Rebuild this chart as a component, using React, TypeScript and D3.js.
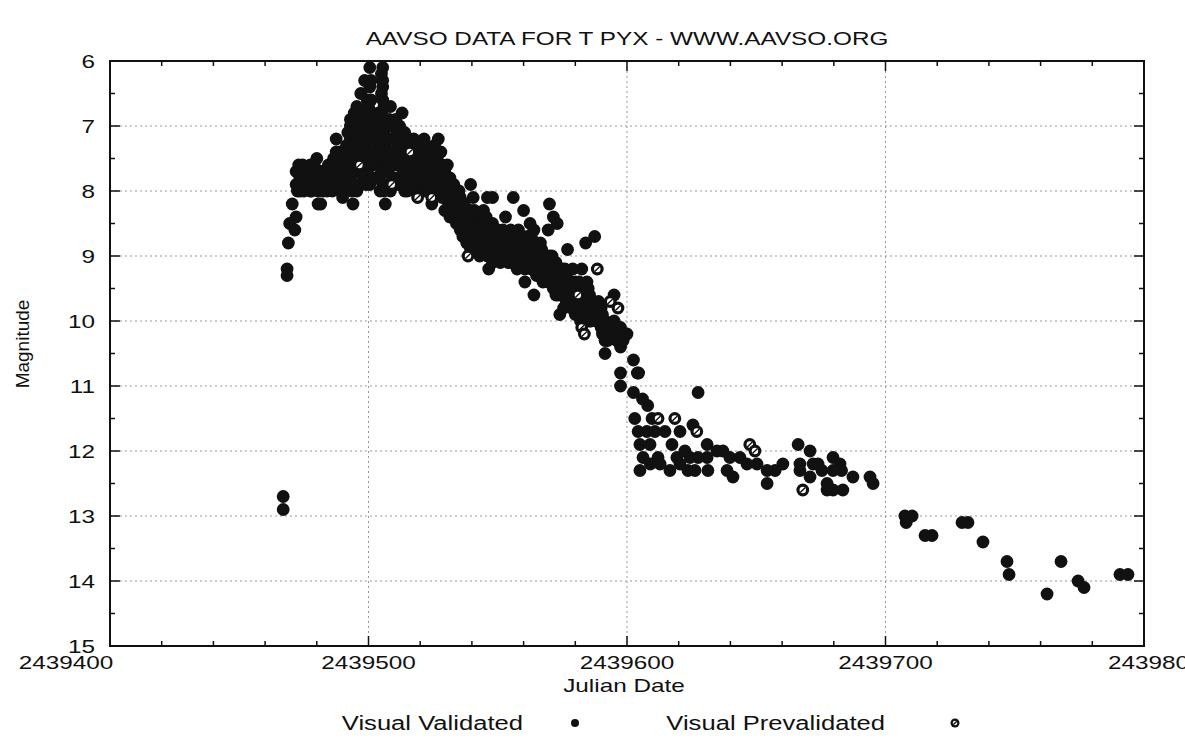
import React from 'react';
import * as d3 from 'd3';

// Julian Date origin; observation days are stored as days after JD0
const JD0 = 2439400;
const xTickValues = [2439400, 2439500, 2439600, 2439700, 2439800];
const yTickValues = [6, 7, 8, 9, 10, 11, 12, 13, 14, 15];
const title = 'AAVSO DATA FOR T PYX - WWW.AAVSO.ORG';
const xLabel = 'Julian Date';
const yLabel = 'Magnitude';
const legendNames = ['Visual Validated', 'Visual Prevalidated'];

// [days after JD0, magnitude]
const validated: [number, number][] = [
  [67, 12.7], [67, 12.9], [68.5, 9.2], [68.5, 9.3], [69, 8.8], [69.5, 8.5], [70.5, 8.2], [71.5, 8.6], [72, 8.4],
  [72, 7.7], [72, 7.9], [72.5, 8.0], [73.5, 8.0], [73.5, 7.8], [74.5, 7.6], [74.5, 7.8], [76, 7.9], [76, 7.7],
  [77.5, 7.9], [77.5, 7.6], [77.5, 8.0], [78, 8.0], [80, 7.5], [80, 7.8], [80.5, 8.2], [80.5, 8.0], [81, 7.9],
  [81.5, 8.2], [82, 7.7], [83, 7.9], [83, 7.7], [84, 7.9], [84, 8.0], [85, 7.7], [85, 7.9], [86, 7.6], [86, 8.0],
  [87.5, 7.2], [87.5, 7.4], [88, 7.8], [88, 7.5], [89, 8.0], [89, 7.4], [89, 7.6], [90, 8.1], [90, 7.7], [90, 7.9],
  [91.5, 7.4], [91.5, 7.6], [91.5, 7.8], [91.5, 7.3], [93, 6.9], [93, 7.0], [93, 7.2], [93, 7.5], [93, 7.8],
  [93.5, 8.0], [93.5, 7.1], [94, 8.2], [94, 7.3], [94, 7.6], [95.5, 6.7], [95.5, 7.0], [95.5, 8.0], [95.5, 7.4],
  [95.5, 7.7], [97, 6.5], [97, 6.9], [97, 7.1], [97, 7.5], [97, 7.9], [98, 6.8], [98, 7.2], [98, 7.6], [98, 7.8],
  [98.5, 6.3], [98.5, 7.0], [98.5, 7.3], [99.5, 6.6], [99.5, 7.1], [99.5, 7.5], [99.5, 7.7], [100.5, 6.1],
  [100.5, 6.4], [100.5, 7.0], [100.5, 7.4], [100.5, 7.9], [101.5, 7.0], [101.5, 6.8], [101.5, 7.2], [101.5, 7.6],
  [103, 7.1], [103, 7.5], [103, 7.8], [103, 6.9], [103.5, 7.3], [104.5, 8.0], [104.5, 7.0], [104.5, 7.6],
  [105.5, 6.1], [105.5, 6.3], [105.5, 6.4], [105.5, 6.6], [105.5, 7.1], [105.5, 7.5], [105.5, 7.9],
  [106.5, 8.2], [106.5, 7.3], [106.5, 7.7], [106.5, 6.9], [107, 6.7], [107, 7.0], [107, 7.9],
  [108.5, 6.7], [108.5, 7.6], [108.5, 7.4], [108.5, 8.0], [109.5, 7.2], [109.5, 7.8], [111, 7.8], [111, 7.5],
  [111, 7.1], [112, 7.0], [112, 7.3], [112, 7.6], [113, 6.8], [113, 7.2], [113, 7.9], [115, 7.2], [115, 7.5],
  [115, 7.8], [115, 8.0], [116, 7.4], [116, 7.7], [117.5, 7.2], [117.5, 7.5], [117.5, 7.9], [119, 7.6], [119, 7.3],
  [120, 7.7], [120, 7.4], [120, 7.9], [121, 7.9], [121, 7.5], [122, 7.3], [122, 7.7], [122, 8.0], [123, 7.6],
  [123, 7.8], [124.5, 8.2], [124.5, 7.5], [124.5, 7.9], [126, 7.7], [126, 8.0], [126, 7.4], [127, 7.2], [127, 7.6],
  [127, 7.9], [128.5, 7.6], [128.5, 7.8], [128.5, 8.1], [129.5, 7.7], [129.5, 8.0], [129.5, 8.3], [131.5, 7.8],
  [131.5, 8.1], [131.5, 8.4], [132, 8.0], [132, 8.3], [134, 8.2], [134, 8.0], [134, 8.5], [135.5, 8.1],
  [135.5, 8.4], [135.5, 8.6], [136.5, 8.4], [136.5, 8.7], [136.5, 8.3], [138, 8.5], [138, 8.8], [139.5, 7.9],
  [139.5, 8.9], [139.5, 8.6], [139.5, 8.3], [140.5, 8.1], [140.5, 8.5], [140.5, 8.7], [142, 8.4], [142, 8.6],
  [142, 8.9], [143, 8.5], [143, 8.8], [143, 9.0], [144.5, 8.3], [144.5, 8.6], [144.5, 8.9], [146, 8.1], [146, 8.7],
  [146, 9.0], [146.5, 9.2], [146.5, 8.8], [147, 8.5], [147, 8.9], [148, 8.1], [148, 8.5], [148, 8.7], [148, 9.1],
  [150, 8.6], [150, 8.9], [150, 9.0], [151, 8.7], [151, 8.8], [151, 9.1], [153, 8.4], [153, 8.7], [153, 9.0],
  [153.5, 8.9], [155, 8.6], [155, 8.8], [155, 9.1], [156, 8.1], [156, 8.7], [156, 9.0], [157.5, 8.7], [157.5, 8.9],
  [157.5, 9.2], [158.5, 8.8], [158.5, 9.0], [158.5, 9.1], [160, 8.3], [160, 8.8], [160, 9.0], [160.5, 9.4],
  [160.5, 8.9], [160.5, 9.2], [161.5, 8.7], [161.5, 9.0], [162.5, 8.5], [162.5, 8.8], [162.5, 9.1], [164, 8.6],
  [164, 9.6], [164, 9.0], [164, 9.2], [165, 8.9], [165, 9.1], [165, 9.3], [166.5, 8.8], [166.5, 9.0], [166.5, 9.3],
  [167.5, 9.0], [167.5, 9.2], [167.5, 9.4], [169.5, 8.6], [169.5, 9.1], [169.5, 9.4], [170, 8.2], [170, 9.0],
  [170, 9.3], [171.5, 8.4], [171.5, 9.2], [171.5, 9.5], [172.5, 9.1], [172.5, 9.3], [172.5, 9.6], [173, 8.5],
  [173, 9.4], [174, 9.9], [174, 9.2], [174, 9.5], [175, 9.2], [175, 9.4], [175, 9.6], [176.5, 9.3], [176.5, 9.5],
  [176.5, 9.7], [177, 8.9], [177, 9.6], [178, 9.4], [178, 9.7], [179, 9.2], [179, 9.5], [179, 9.8], [180, 9.4],
  [180, 9.6], [180, 9.9], [182, 9.5], [182, 9.7], [182, 10.0], [182.5, 9.2], [182.5, 9.8], [184, 8.8], [184, 9.6],
  [184, 9.9], [184.5, 9.4], [184.5, 9.7], [185.5, 9.6], [185.5, 9.8], [185.5, 10.0], [187, 9.7], [187, 9.9],
  [187.5, 8.7], [187.5, 9.8], [189, 9.9], [189, 10.0], [189, 9.7], [190, 9.8], [190, 10.1], [191.5, 10.5],
  [191.5, 10.3], [191.5, 10.0], [192.5, 10.3], [192.5, 10.1], [193.5, 10.2], [195, 9.6], [195, 10.0], [196, 10.1],
  [196, 10.3], [197.5, 10.1], [197.5, 10.3], [197.5, 10.8], [197.5, 11.0], [197.5, 10.4], [198.5, 10.2],
  [198.5, 10.3], [200, 10.2], [202.5, 10.6], [202.5, 11.1], [204, 10.8], [204.5, 10.8], [206, 11.2], [208, 11.3],
  [227.5, 11.1],
  // additional observations inside the dense outburst band
  [73, 7.6], [73, 7.9], [75, 7.7], [75, 8.0], [76.5, 7.8], [78.5, 7.7], [79, 7.9], [79, 7.6], [81.5, 7.7],
  [82.5, 8.0], [83.5, 7.8], [84.5, 7.6], [86.5, 7.8], [86.5, 7.5], [87, 7.9], [88.5, 7.7], [89.5, 7.8],
  [90.5, 7.5], [92.5, 7.9], [92.5, 7.4], [92, 7.1], [92, 7.7], [94.5, 6.8], [94.5, 7.9], [96, 7.2], [96, 7.6],
  [96, 6.9], [97.5, 7.3], [97.5, 7.7], [99, 6.9], [99, 7.4], [99, 7.9], [100, 6.7], [100, 7.2], [100, 7.6],
  [101, 6.3], [101, 6.6], [102, 7.4], [102, 7.8], [102, 6.9], [104, 6.8], [104, 7.2], [104, 7.4], [104, 7.8],
  [105, 6.2], [105, 6.5], [105, 6.8], [105, 7.3], [105, 7.7], [106, 6.7], [106, 7.1], [106, 7.5], [106, 8.0],
  [107.5, 7.2], [107.5, 7.5], [107.5, 7.7], [108, 6.9], [109, 7.0], [110, 7.4], [110, 7.6], [110.5, 6.9],
  [111.5, 7.3], [111.5, 7.9], [112.5, 7.5], [113.5, 7.4], [113.5, 7.7], [114, 7.1], [114, 8.0], [114.5, 7.3],
  [114.5, 7.6], [116.5, 7.3], [116.5, 7.9], [118, 7.4], [118, 7.7], [118, 8.0], [119.5, 7.5], [119.5, 7.8],
  [121.5, 7.2], [121.5, 7.6], [121.5, 7.8], [123.5, 7.4], [123.5, 7.7], [123.5, 8.0], [125, 7.6], [125, 7.8],
  [125.5, 7.3], [126.5, 7.5], [127.5, 7.7], [127.5, 8.0], [128, 7.4], [130, 7.9], [130, 8.1], [130.5, 7.6],
  [131, 8.2], [133, 7.9], [133, 8.1], [133, 8.3], [134.5, 8.4], [135, 8.0], [137, 8.2], [137, 8.5], [137.5, 8.6],
  [138.5, 8.4], [138.5, 8.7], [141, 8.3], [141, 8.6], [141, 8.8], [141.5, 8.9], [143.5, 8.7], [145, 8.5],
  [145, 8.8], [145.5, 8.4], [147.5, 8.6], [147.5, 8.8], [149, 8.6], [149, 8.8], [149, 9.0], [151.5, 8.9],
  [152, 8.6], [152, 8.8], [152, 9.0], [154, 8.7], [154, 8.9], [154, 9.1], [156.5, 8.8], [156.5, 9.0], [158, 8.6],
  [159, 8.9], [159, 9.1], [159.5, 8.7], [161, 8.8], [161, 9.1], [162, 8.9], [163, 8.7], [163, 9.0], [163, 9.2],
  [164.5, 8.8], [165.5, 9.0], [166, 9.2], [167, 8.9], [168, 9.1], [168, 9.3], [168.5, 9.0], [169, 9.2],
  [170.5, 9.1], [170.5, 9.3], [171, 9.0], [172, 9.2], [173.5, 9.3], [173.5, 9.6], [174.5, 9.3], [175.5, 9.4],
  [175.5, 9.8], [176, 9.2], [177.5, 9.4], [178.5, 9.5], [178.5, 9.8], [179.5, 9.6], [181, 9.5], [181, 9.8],
  [181.5, 9.4], [183, 9.6], [183, 9.9], [183.5, 9.7], [185, 9.5], [185, 9.8], [186, 9.7], [186, 10.0],
  [186.5, 9.9], [188, 9.8], [188, 10.0], [190.5, 9.9], [190.5, 10.2],
  // plateau after the steep decline
  [203, 11.5], [209.7, 11.5], [225.5, 11.6], [204.3, 11.7], [205, 11.9], [207.7, 11.7], [210.8, 11.7],
  [214.7, 11.7], [220.5, 11.7], [208.9, 11.9], [212, 12.1], [206.2, 12.1], [205, 12.3], [216.6, 12.3],
  [212.8, 12.2], [219.3, 12.1], [223.6, 12.3], [224.4, 12.1], [227.5, 12.1], [231, 11.9], [231, 12.1],
  [231.3, 12.3], [234.8, 12.0], [237.1, 12.0], [239.8, 12.1], [238.7, 12.3], [243.7, 12.1], [241, 12.4],
  [246.4, 12.2], [250.3, 12.2], [254.2, 12.3], [254.2, 12.5], [257.3, 12.3], [260.3, 12.2], [266.2, 11.9],
  [266.9, 12.2], [266.9, 12.3], [270.8, 12.0], [272, 12.2], [275.4, 12.3], [277.4, 12.6], [279.7, 12.1],
  [279.7, 12.3], [282.4, 12.2], [283.5, 12.6], [279.7, 12.6], [287.4, 12.4], [294, 12.4], [295.2, 12.5],
  [273.9, 12.2], [283, 12.3], [277.4, 12.5], [270.8, 12.4], [217.4, 11.9], [222.4, 12.0], [209, 12.2],
  [220.5, 12.2], [226.3, 12.3],
  // late decline
  [307.5, 13.0], [310.3, 13.0], [308, 13.1], [315.3, 13.3], [318, 13.3], [329.6, 13.1], [331.9, 13.1],
  [337.7, 13.4], [347, 13.7], [347.8, 13.9], [362.5, 14.2], [367.9, 13.7], [374.5, 14.0], [376.8, 14.1],
  [390.7, 13.9], [393.8, 13.9],
];

const prevalidated: [number, number][] = [
  [96.5, 7.6], [109, 7.9], [119, 8.1], [124.5, 8.1], [116, 7.4], [138.5, 9.0], [181, 9.6], [188.5, 9.2],
  [182.5, 10.1], [183.5, 10.2], [193.5, 9.7], [196.5, 9.8], [212, 11.5], [218.5, 11.5], [227, 11.7],
  [247.5, 11.9], [249.5, 12.0], [268, 12.6],
];

const FONT = 'Liberation Sans, Arial, Helvetica, sans-serif';
const SX = 1.28;

function HText({ x, y, anchor = 'middle', size = 19, sx = SX, children }: any) {
  return (
    <g transform={`translate(${x},${y}) scale(${sx},1)`}>
      <text x={0} y={0} textAnchor={anchor} fontSize={size} fontFamily={FONT} fill="#111">
        {children}
      </text>
    </g>
  );
}

function PreMarker({ cx, cy, r }: { cx: number; cy: number; r: number }) {
  const ir = r * 0.5;
  return (
    <g>
      <circle cx={cx} cy={cy} r={r} fill="#111" />
      <circle cx={cx} cy={cy} r={ir} fill="#fff" />
      <line x1={cx - ir * 0.8} y1={cy + ir * 0.8} x2={cx + ir * 0.8} y2={cy - ir * 0.8} stroke="#111" strokeWidth={1.4} />
    </g>
  );
}

export default function App() {
  const W = 1185;
  const H = 751;
  const L = 110, R = 1144, T = 61, B = 646;
  const x = d3.scaleLinear().domain([2439400, 2439800]).range([L, R]);
  const y = d3.scaleLinear().domain([6, 15]).range([T, B]);
  const xMinor = d3.range(2439400, 2439801, 20).filter((v) => !xTickValues.includes(v));
  const yMinor = d3.range(6.5, 15, 1);
  const DOT = 6.4;

  return (
    <svg width={W} height={H} style={{ position: 'absolute', left: 0, top: 0, background: '#fff' }}>
      <rect x={0} y={0} width={W} height={H} fill="#fff" />
      {/* grid */}
      {yTickValues.slice(1, -1).map((v) => (
        <line key={'gy' + v} x1={L} x2={R} y1={y(v)} y2={y(v)} stroke="#999" strokeWidth={1} strokeDasharray="2,3" />
      ))}
      {xTickValues.slice(1, -1).map((v) => (
        <line key={'gx' + v} x1={x(v)} x2={x(v)} y1={T} y2={B} stroke="#999" strokeWidth={1} strokeDasharray="2,3" />
      ))}
      {/* ticks */}
      {xTickValues.map((v) => (
        <g key={'tx' + v}>
          <line x1={x(v)} x2={x(v)} y1={B} y2={B - 10} stroke="#111" strokeWidth={1.5} />
          <line x1={x(v)} x2={x(v)} y1={T} y2={T + 10} stroke="#111" strokeWidth={1.5} />
        </g>
      ))}
      {xMinor.map((v) => (
        <g key={'mx' + v}>
          <line x1={x(v)} x2={x(v)} y1={B} y2={B - 5} stroke="#111" strokeWidth={1.5} />
          <line x1={x(v)} x2={x(v)} y1={T} y2={T + 5} stroke="#111" strokeWidth={1.5} />
        </g>
      ))}
      {yTickValues.map((v) => (
        <g key={'ty' + v}>
          <line x1={L} x2={L + 10} y1={y(v)} y2={y(v)} stroke="#111" strokeWidth={1.5} />
          <line x1={R} x2={R - 10} y1={y(v)} y2={y(v)} stroke="#111" strokeWidth={1.5} />
        </g>
      ))}
      {yMinor.map((v) => (
        <g key={'my' + v}>
          <line x1={L} x2={L + 5} y1={y(v)} y2={y(v)} stroke="#111" strokeWidth={1.5} />
          <line x1={R} x2={R - 5} y1={y(v)} y2={y(v)} stroke="#111" strokeWidth={1.5} />
        </g>
      ))}
      {/* points */}
      {validated.map(([d, m], i) => (
        <circle key={'v' + i} cx={x(JD0 + d)} cy={y(m)} r={DOT} fill="#111" />
      ))}
      {prevalidated.map(([d, m], i) => (
        <PreMarker key={'p' + i} cx={x(JD0 + d)} cy={y(m)} r={DOT} />
      ))}
      {/* frame */}
      <rect x={L} y={T} width={R - L} height={B - T} fill="none" stroke="#111" strokeWidth={2} />
      {/* tick labels */}
      {yTickValues.map((v) => (
        <HText key={'ly' + v} x={95} y={y(v) + 6.5} anchor="end">{String(v)}</HText>
      ))}
      {xTickValues.map((v, i) => {
        const last = i === xTickValues.length - 1;
        return (
          <HText
            key={'lx' + v}
            x={i === 0 ? 66 : last ? 1108 : x(v)}
            y={669}
            anchor={last ? 'start' : 'middle'}
          >
            {String(v)}
          </HText>
        );
      })}
      <HText x={627} y={45}>{title}</HText>
      <HText x={624} y={692}>{xLabel}</HText>
      <g transform={`translate(29,344) rotate(-90)`}>
        <text x={0} y={0} textAnchor="middle" fontSize={19} fontFamily={FONT} fill="#111">{yLabel}</text>
      </g>
      {/* legend */}
      <HText x={523} y={730} anchor="end" size={20}>{legendNames[0]}</HText>
      <circle cx={575} cy={723} r={4} fill="#111" />
      <HText x={885} y={730} anchor="end" size={20}>{legendNames[1]}</HText>
      <PreMarker cx={955} cy={723} r={4.5} />
    </svg>
  );
}
